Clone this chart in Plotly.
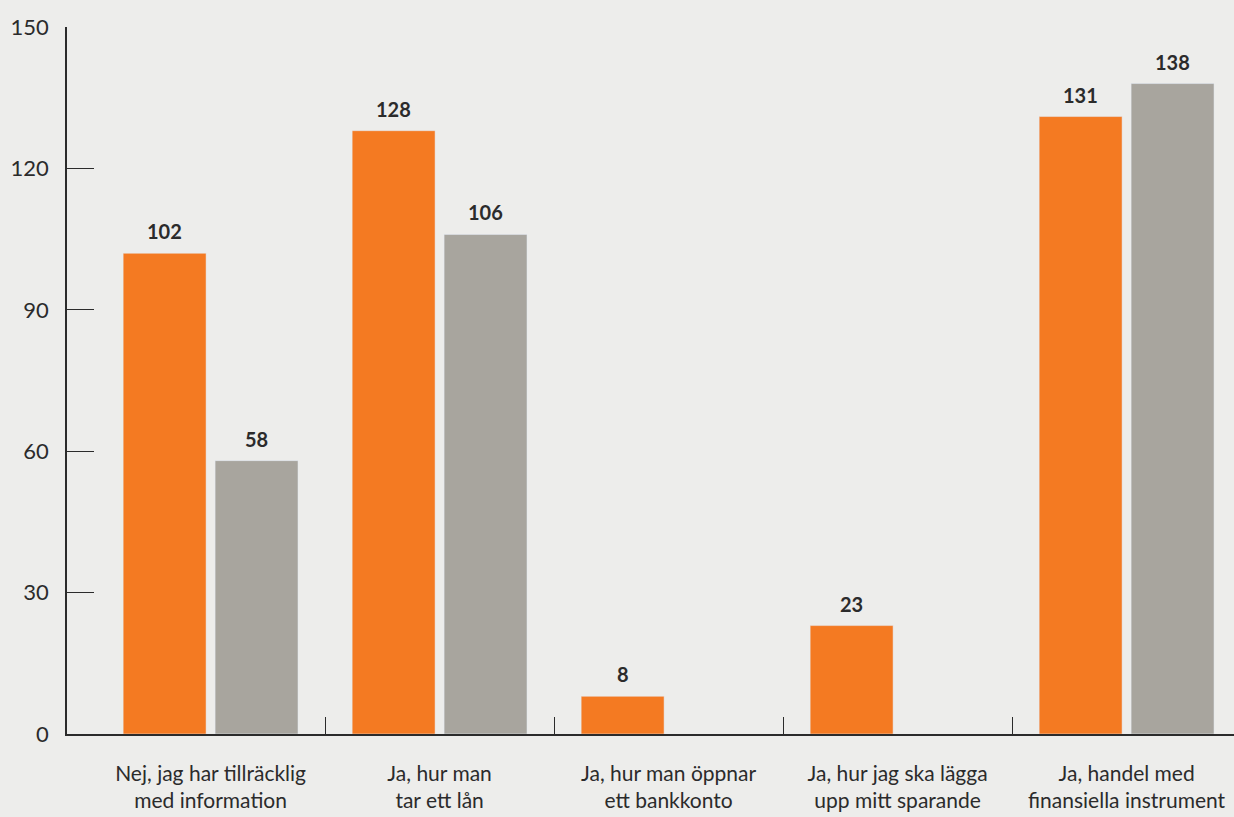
import plotly.graph_objects as go

categories = [
    "Nej, jag har tillräcklig<br>med information",
    "Ja, hur man<br>tar ett lån",
    "Ja, hur man öppnar<br>ett bankkonto",
    "Ja, hur jag ska lägga<br>upp mitt sparande",
    "Ja, handel med<br>finansiella instrument",
]
series_orange = [102, 128, 8, 23, 131]
series_gray = [58, 106, None, None, 138]
y_ticks = [0, 30, 60, 90, 120, 150]

ORANGE = "#F47A22"
GRAY = "#A8A59E"
BG = "#EDEDEB"
INK = "#2b2b2b"
FONT = "Lato, 'Open Sans', sans-serif"

BARGAP = 0.197
BARGROUPGAP = 0.098
x_pos = list(range(len(categories)))

fig = go.Figure()
fig.add_trace(go.Bar(x=x_pos, y=series_orange, marker_color=ORANGE, hoverinfo="skip"))
fig.add_trace(go.Bar(x=x_pos, y=series_gray, marker_color=GRAY, hoverinfo="skip"))

# value labels centred over each bar's slot within the group
slot = (1 - BARGAP) / 2
for series, shift in ((series_orange, -slot / 2), (series_gray, slot / 2)):
    for i, v in zip(x_pos, series):
        if v is None:
            continue
        fig.add_annotation(
            x=i + shift, y=v, text=f"<b>{v}</b>", showarrow=False,
            yanchor="middle", yshift=22,
            font=dict(family=FONT, size=20, color=INK),
        )

fig.update_layout(
    width=1234, height=817,
    margin=dict(l=67, r=0, t=27, b=83),
    paper_bgcolor=BG, plot_bgcolor=BG,
    barmode="group", bargap=BARGAP, bargroupgap=BARGROUPGAP,
    showlegend=False,
    font=dict(family=FONT, color=INK),
)
fig.update_xaxes(
    range=[-0.627, 4.469], automargin=False,
    tickvals=x_pos, ticktext=categories,
    ticks="", showgrid=False, zeroline=False,
    showline=True, linecolor=INK, linewidth=1.5,
    tickfont=dict(family=FONT, size=21, color=INK),
    ticklabelstandoff=20,
    minor=dict(tickmode="array", tickvals=[0.5, 1.5, 2.5, 3.5],
               ticks="inside", ticklen=17, tickwidth=1.3, tickcolor=INK),
)
fig.update_yaxes(
    range=[0, 150], tickvals=y_ticks, automargin=False,
    ticks="inside", ticklen=27, tickwidth=1.3, tickcolor=INK,
    showgrid=False, zeroline=False,
    showline=True, linecolor=INK, linewidth=1.5,
    tickfont=dict(family=FONT, size=22, color=INK),
    ticklabelstandoff=12,
)

fig.write_html("out.html")
